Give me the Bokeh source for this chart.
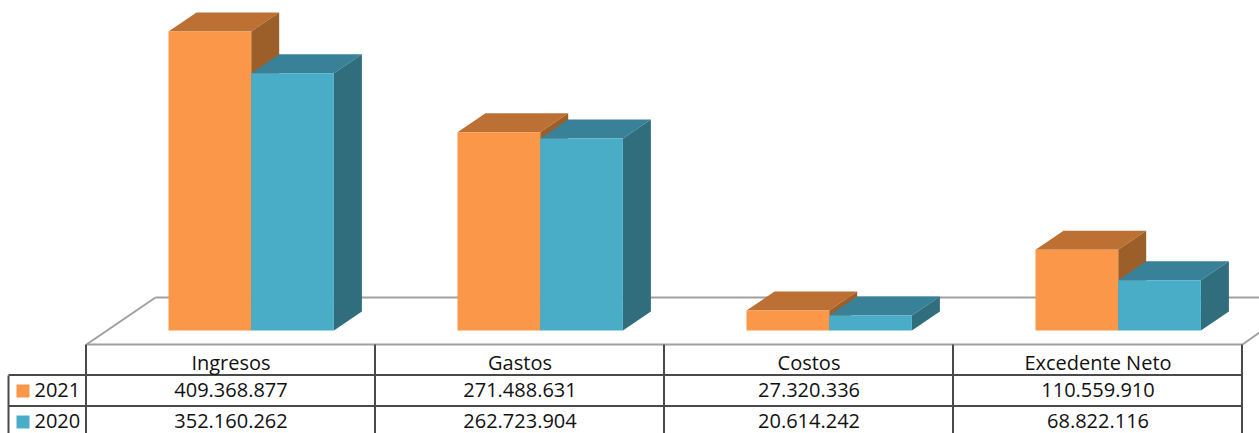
from bokeh.plotting import figure
from bokeh.models import Range1d
from bokeh.core.properties import value
from bokeh.embed import file_html
from bokeh.resources import INLINE

categories = ["Ingresos", "Gastos", "Costos", "Excedente Neto"]
series_names = ["2021", "2020"]
values_2021 = [409368877, 271488631, 27320336, 110559910]
values_2020 = [352160262, 262723904, 20614242, 68822116]

W, H = 1259, 433
BASE_PX, PX_PER_UNIT = 330.0, 0.7304e-6
LEFT_PX, SLOT_PX = 86.0, 289.0
FONT = "Open Sans"

def X(px):
    return (px - LEFT_PX) / SLOT_PX

def Y(px):
    return (BASE_PX - px) / PX_PER_UNIT

p = figure(width=W, height=H, output_backend="svg", toolbar_location=None,
           x_range=Range1d(X(0), X(W)), y_range=Range1d(Y(H), Y(0)),
           min_border=0, outline_line_color=None, background_fill_color="white")
p.axis.visible = False
p.grid.visible = False

# floor
FLOOR = "#a0a0a0"
p.segment([X(155), X(86), X(1242), X(86)], [Y(297), Y(344), Y(344), Y(344)],
          [X(W), X(155), X(W), X(1242)], [Y(297), Y(297), Y(332), Y(344)],
          line_color=FLOOR, line_width=2)

# bars in 3D
BAR_W = 82.7 / SLOT_PX
OFFS = 82.0 / SLOT_PX
DX, DY = 28.0 / SLOT_PX, 19.0 / PX_PER_UNIT
styles = [("#fa9748", "#bc7034", "#9c5f2a", values_2021, 0),
          ("#4aadc8", "#388199", "#306e7e", values_2020, 1)]
for front, top, side, vals, k in styles:
    for i, v in enumerate(vals):
        x0 = i + OFFS + k * BAR_W
        x1 = x0 + BAR_W
        p.patch([x0, x1, x1 + DX, x0 + DX], [v, v, v + DY, v + DY], fill_color=top, line_color=None)
        p.patch([x1, x1 + DX, x1 + DX, x1], [0, DY, v + DY, v], fill_color=side, line_color=None)
        p.quad(left=[x0], right=[x1], bottom=[0], top=[v], fill_color=front, line_color=None)

# data table
GRID = "#4a4a4a"
cols = [85.5, 374.5, 663.5, 952.5, 1241.5]
p.segment([X(c) for c in cols], [Y(344)] * 5, [X(c) for c in cols], [Y(H)] * 5,
          line_color=GRID, line_width=2)
p.segment([X(8)], [Y(375)], [X(8)], [Y(H)], line_color=GRID, line_width=2)
p.segment([X(8), X(8)], [Y(374.5), Y(405.5)], [X(1242), X(1242)], [Y(374.5), Y(405.5)],
          line_color=GRID, line_width=2)

def fmt(n):
    return f"{n:,}".replace(",", ".")

centers = [i + 0.5 for i in range(4)]
TS = "20px"
common = dict(text_font=value(FONT), text_font_size=value(TS), text_color="#111111", text_baseline="middle")
p.text(centers, [Y(361.5)] * 4, text=categories, text_align="center", **common)
p.text(centers, [Y(389.5)] * 4, text=[fmt(v) for v in values_2021], text_align="center", **common)
p.text(centers, [Y(420)] * 4, text=[fmt(v) for v in values_2020], text_align="center", **common)
p.text([X(34)] * 2, [Y(389.5), Y(420)], text=series_names, text_align="left", **common)
p.quad(left=[X(16)] * 2, right=[X(29)] * 2, top=[Y(384), Y(415)], bottom=[Y(397), Y(428)],
       fill_color=["#fa9748", "#4aadc8"], line_color=None)

open("out.html", "w").write(file_html(p, INLINE))
